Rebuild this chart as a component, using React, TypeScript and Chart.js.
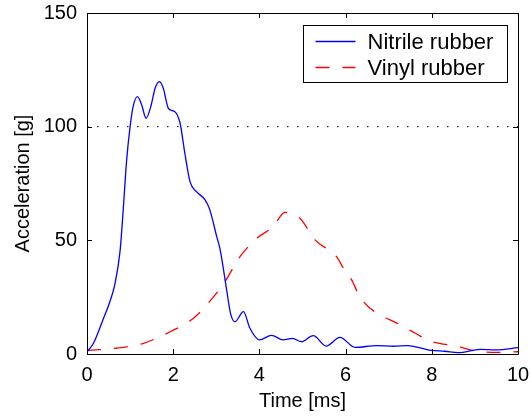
import React, { useEffect, useRef } from "react";
import { Chart, registerables } from "chart.js";

Chart.register(...registerables);

const nitrileTime = [0, 0.15, 0.38, 0.53, 0.65, 0.77, 0.84, 0.92, 1.0, 1.07, 1.17, 1.27, 1.37, 1.48, 1.58, 1.68, 1.77, 1.89, 2.04, 2.16, 2.27, 2.39, 2.54, 2.74, 2.85, 3.01, 3.09, 3.24, 3.33, 3.43, 3.63, 3.78, 4.0, 4.28, 4.55, 4.77, 4.97, 5.25, 5.55, 5.87, 6.22, 6.72, 7.11, 7.44, 7.98, 8.3, 8.61, 9.12, 9.5, 10];
const nitrileAccel = [1, 4.7, 15.5, 23, 31, 45.8, 63.4, 85.3, 100, 108.8, 113.2, 109.5, 103.7, 108.8, 116.9, 119.8, 116.9, 108, 106.6, 101.5, 88.3, 75.8, 71.4, 67.8, 63.4, 51.6, 45.8, 28.2, 17.9, 14.2, 18.6, 11.3, 6.2, 8.2, 6.2, 6.9, 5.4, 8.1, 3.5, 7.3, 2.9, 3.7, 3.4, 3.7, 1.6, 1.2, 0.6, 2.0, 1.8, 2.8];

const vinylTime = [0, 0.84, 1.31, 1.93, 2.47, 2.81, 3.2, 3.55, 3.94, 4.32, 4.59, 4.94, 5.29, 5.79, 5.95, 6.14, 6.33, 6.57, 6.8, 7.2, 7.65, 7.94, 8.27, 8.54, 8.89, 9.12, 9.54, 10];
const vinylAccel = [1.5, 2.9, 4.7, 9.8, 15.7, 22.3, 31.8, 42.8, 50.9, 56, 62.3, 59.7, 50.2, 42.8, 37.7, 32.6, 25.2, 20.1, 17.2, 13.5, 8.8, 5.8, 4.3, 3.7, 1.8, 1.0, 0.7, 1.0];

const refTime = [0, 10];
const refAccel = [100, 100];

const xTicks = [0, 2, 4, 6, 8, 10];
const yTicks = [0, 50, 100, 150];

const seriesLabels = ["Nitrile rubber", "Vinyl rubber"];

const FONT = "'Liberation Sans', Arial, Helvetica, sans-serif";

const toPoints = (xs: number[], ys: number[]) => xs.map((x, i) => ({ x, y: ys[i] }));

const framePlugin = {
  id: "frameTicks",
  afterDraw(chart: any) {
    const { ctx, chartArea, scales } = chart;
    const { left, right, top, bottom } = chartArea;
    ctx.save();
    ctx.strokeStyle = "#000";
    ctx.lineWidth = 1;
    ctx.beginPath();
    ctx.rect(Math.round(left) + 0.5, Math.round(top) + 0.5, Math.round(right - left), Math.round(bottom - top));
    ctx.stroke();
    const tl = 5;
    ctx.beginPath();
    xTicks.forEach((v) => {
      const px = Math.round(scales.x.getPixelForValue(v)) + 0.5;
      ctx.moveTo(px, bottom);
      ctx.lineTo(px, bottom - tl);
      ctx.moveTo(px, top);
      ctx.lineTo(px, top + tl);
    });
    yTicks.forEach((v) => {
      const py = Math.round(scales.y.getPixelForValue(v)) + 0.5;
      ctx.moveTo(left, py);
      ctx.lineTo(left + tl, py);
      ctx.moveTo(right, py);
      ctx.lineTo(right - tl, py);
    });
    ctx.stroke();

    // legend
    const ds = chart.data.datasets.slice(0, 2);
    ctx.font = `22px ${FONT}`;
    const maxW = Math.max(...ds.map((d: any) => ctx.measureText(d.label).width));
    const boxW = 64 + maxW + 14;
    const boxH = 57;
    const bx = Math.round(right - 11 - boxW) + 0.5;
    const by = Math.round(top + 12) + 0.5;
    ctx.fillStyle = "#fff";
    ctx.fillRect(bx, by, boxW, boxH);
    ctx.strokeStyle = "#000";
    ctx.setLineDash([]);
    ctx.strokeRect(bx, by, Math.round(boxW), boxH);
    ds.forEach((d: any, i: number) => {
      const cy = by + 16 + i * 26;
      ctx.save();
      ctx.strokeStyle = d.borderColor;
      ctx.lineWidth = d.borderWidth;
      ctx.setLineDash(d.borderDash || []);
      ctx.beginPath();
      ctx.moveTo(bx + 12, cy);
      ctx.lineTo(bx + 52, cy);
      ctx.stroke();
      ctx.restore();
      ctx.fillStyle = "#000";
      ctx.textBaseline = "middle";
      ctx.textAlign = "left";
      ctx.fillText(d.label, bx + 64, cy + 1);
    });
    ctx.restore();
  },
};

export default function App() {
  const ref = useRef<HTMLCanvasElement | null>(null);
  useEffect(() => {
    if (!ref.current) return;
    const chart = new Chart(ref.current, {
      type: "line",
      data: {
        datasets: [
          {
            label: seriesLabels[0],
            data: toPoints(nitrileTime, nitrileAccel),
            borderColor: "#0000ff",
            borderWidth: 1.3,
            pointRadius: 0,
            cubicInterpolationMode: "monotone",
            fill: false,
          },
          {
            label: seriesLabels[1],
            data: toPoints(vinylTime, vinylAccel),
            borderColor: "#ff0000",
            borderWidth: 1.3,
            borderDash: [14, 13],
            pointRadius: 0,
            cubicInterpolationMode: "monotone",
            fill: false,
          },
          {
            label: "ref",
            data: toPoints(refTime, refAccel),
            borderColor: "#000",
            borderWidth: 1,
            borderDash: [1.5, 8.5],
            pointRadius: 0,
            fill: false,
          },
        ],
      },
      options: {
        animation: false,
        responsive: false,
        events: [],
        layout: { padding: { left: 0, top: 13, right: 13, bottom: 0 } },
        plugins: { legend: { display: false }, tooltip: { enabled: false } },
        scales: {
          x: {
            type: "linear",
            min: 0,
            max: 10,
            afterFit: (s: any) => { s.height = 62; s.paddingLeft = 0; s.paddingRight = 0; },
            afterBuildTicks: (s: any) => { s.ticks = xTicks.map((v) => ({ value: v })); },
            ticks: { color: "#000", font: { family: FONT, size: 20 }, padding: 9, maxRotation: 0 },
            grid: { display: false, drawTicks: false },
            border: { display: false },
            title: { display: true, text: "Time [ms]", color: "#000", font: { family: FONT, size: 20 }, padding: { top: 3, bottom: 3 } },
          },
          y: {
            type: "linear",
            min: 0,
            max: 150,
            afterFit: (s: any) => { s.width = 87; s.paddingTop = 0; s.paddingBottom = 0; },
            afterBuildTicks: (s: any) => { s.ticks = yTicks.map((v) => ({ value: v })); },
            ticks: { color: "#000", font: { family: FONT, size: 20 }, padding: 10 },
            grid: { display: false, drawTicks: false },
            border: { display: false },
            title: { display: true, text: "Acceleration [g]", color: "#000", font: { family: FONT, size: 20 }, padding: { top: 11, bottom: 11 } },
          },
        },
      },
      plugins: [framePlugin],
    } as any);
    return () => chart.destroy();
  }, []);
  return (
    <div style={{ position: "fixed", left: 0, top: 0, width: 531, height: 416, background: "#fff" }}>
      <canvas ref={ref} width={531} height={416} style={{ width: 531, height: 416, display: "block" }} />
    </div>
  );
}
